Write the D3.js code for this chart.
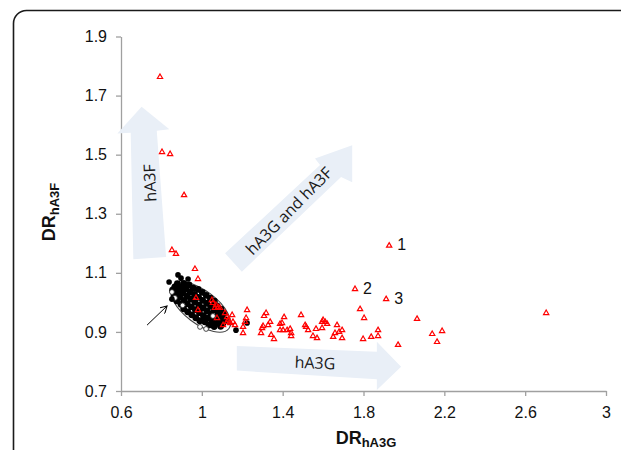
<!DOCTYPE html>
<html><head><meta charset="utf-8">
<script src="https://cdn.jsdelivr.net/npm/d3@7"></script>
<style>body{margin:0;background:#fff}</style>
</head><body><svg id="c" width="621" height="450"></svg>
<script>
// ---- data ----
const xTicks = [0.6, 1, 1.4, 1.8, 2.2, 2.6, 3];
const yTicks = [0.7, 0.9, 1.1, 1.3, 1.5, 1.7, 1.9];

// red open triangles
const redX = [0.793,0.803,0.843,0.912,0.852,0.872,0.966,0.981,0.971,0.981,1.050,1.055,1.070,1.080,1.065,1.090,1.075,1.115,1.125,1.130,1.150,1.140,1.154,1.125,1.105,1.164,1.224,1.219,1.214,1.204,1.204,1.318,1.308,1.303,1.298,1.293,1.338,1.328,1.343,1.357,1.387,1.397,1.407,1.387,1.402,1.422,1.437,1.442,1.442,1.491,1.511,1.516,1.526,1.550,1.565,1.570,1.595,1.600,1.610,1.620,1.595,1.659,1.650,1.669,1.694,1.694,1.679,1.758,1.783,1.803,1.798,1.838,1.872,1.872,1.912,1.927,1.971,2.065,2.140,2.189,2.164,2.704];
const redY = [1.763,1.509,1.502,1.363,1.177,1.164,1.113,1.079,1.015,0.974,1.008,0.998,0.991,0.984,0.981,0.981,0.947,0.964,0.950,0.940,0.957,0.930,0.934,0.934,0.923,0.923,0.974,0.947,0.934,0.917,0.896,0.964,0.954,0.920,0.913,0.896,0.934,0.923,0.890,0.876,0.927,0.930,0.950,0.906,0.906,0.906,0.910,0.896,0.886,0.957,0.923,0.917,0.906,0.886,0.910,0.879,0.934,0.940,0.934,0.927,0.913,0.896,0.883,0.923,0.906,0.879,0.900,1.045,0.977,0.947,0.876,0.883,0.906,0.886,1.011,1.192,0.856,0.944,0.893,0.903,0.866,0.964];

// black cluster (dense, overlapping)
const clusterX = [0.879,0.867,0.855, 0.911,0.899,0.887,0.875,0.863, 0.937,0.922,0.907,0.892,0.877, 0.957,0.942,0.927,0.912,0.897, 0.982,0.964,0.946,0.928,0.910, 1.002,0.984,0.966,0.948,0.930, 1.022,1.004,0.986,0.968,0.950, 1.042,1.024,1.006,0.988,0.970, 1.062,1.044,1.026,1.008,0.990, 1.075,1.060,1.045,1.030,1.015, 1.095,1.080,1.065,1.050,1.035, 1.109,1.097,1.085,1.073,1.061, 1.117,1.105,1.093];
const clusterY = [1.063,1.052,1.041, 1.064,1.053,1.042,1.031,1.020, 1.059,1.046,1.032,1.018,1.005, 1.048,1.035,1.021,1.007,0.994, 1.044,1.027,1.011,0.995,0.978, 1.034,1.017,1.001,0.985,0.968, 1.024,1.007,0.991,0.975,0.958, 1.014,0.997,0.981,0.965,0.948, 1.004,0.987,0.971,0.955,0.938, 0.988,0.975,0.961,0.947,0.934, 0.977,0.964,0.950,0.936,0.923, 0.962,0.951,0.940,0.929,0.918, 0.941,0.930,0.919];
// black outliers
const outX = [0.838,0.882,0.897,0.932,0.852,1.169,1.224];
const outY = [1.069,1.093,1.082,1.079,1.011,0.906,0.930];
// open circles at cluster edge
const openX = [0.867,0.991,1.021,0.852,1.055,0.905];
const openY = [1.015,0.917,0.910,1.035,0.954,0.990];

// numbered points
const numLabels = ["1","2","3"];
const numX = [1.927,1.758,1.912];
const numY = [1.192,1.045,1.011];

// annotation block arrows (data space outlines)
const arrowF = [[0.702,1.662],[0.839,1.586],[0.777,1.581],[0.823,1.154],[0.661,1.146],[0.648,1.574],[0.582,1.572]];
const arrowG = [[1.173,0.852],[1.866,0.833],[1.866,0.867],[1.986,0.782],[1.866,0.703],[1.866,0.740],[1.173,0.769]];
const arrowGF = [[1.115,1.166],[1.585,1.465],[1.560,1.487],[1.744,1.532],[1.744,1.407],[1.689,1.424],[1.198,1.104]];
const ellipseC = [0.994, 0.984];
const pointerFrom = [0.729,0.923], pointerTo = [0.828,0.988];

// ---- drawing ----
const svg = d3.select("#c");
const x = d3.scaleLinear().domain([0.6,3]).range([121,606]);
const y = d3.scaleLinear().domain([0.7,1.9]).range([391,36.5]);
const fmt = d => String(+d.toFixed(1));
const FONT = "'Liberation Sans', Arial, sans-serif";

// frame
svg.append("rect").attr("x",13.5).attr("y",10.5).attr("width",700).attr("height",600)
  .attr("rx",13).attr("fill","none").attr("stroke","#1a1a1a").attr("stroke-width",1.6);

// axes
const gx = svg.append("g").attr("transform","translate(0,391)")
  .call(d3.axisBottom(x).tickValues(xTicks).tickFormat(fmt).tickSize(5).tickSizeOuter(0).tickPadding(11));
const gy = svg.append("g").attr("transform","translate(121,0)")
  .call(d3.axisLeft(y).tickValues(yTicks).tickFormat(fmt).tickSize(5).tickSizeOuter(0).tickPadding(9));
[gx,gy].forEach(g=>{
  g.selectAll("path,line").attr("stroke","#a0a0a0").attr("stroke-width",1.3);
  g.selectAll("text").attr("font-family",FONT).attr("font-size",16).attr("fill","#111");
});

// block arrows
const line = d3.line().x(d=>x(d[0])).y(d=>y(d[1]));
[arrowF, arrowG, arrowGF].forEach(a=>{
  svg.append("path").attr("d", line(a)+"Z").attr("fill","#e9eff7");
});
const AFONT = "'Open Sans', sans-serif";
function atext(txt, cx, cy, rot){
  svg.append("text").attr("transform",`translate(${cx},${cy}) rotate(${rot})`)
    .attr("text-anchor","middle").attr("dy","0.35em")
    .attr("font-family",AFONT).attr("font-size",16).attr("fill","#1a1a1a").text(txt);
}
atext("hA3F", 150, 183, -92.5);
atext("hA3G", 315, 363, 2.2);
atext("hA3G and hA3F", 289, 211, -45.5);

// ellipse outline
svg.append("ellipse").attr("cx",x(ellipseC[0])).attr("cy",y(ellipseC[1]))
  .attr("rx",35.5).attr("ry",16.5)
  .attr("transform",`rotate(37 ${x(ellipseC[0])} ${y(ellipseC[1])})`)
  .attr("fill","none").attr("stroke","#444").attr("stroke-width",1.1);

// black points
svg.append("g").selectAll("circle").data(d3.zip(clusterX,clusterY)).join("circle")
  .attr("cx",d=>x(d[0])).attr("cy",d=>y(d[1])).attr("r",3.4).attr("fill","#000");
svg.append("g").selectAll("circle").data(d3.zip(openX,openY)).join("circle")
  .attr("cx",d=>x(d[0])).attr("cy",d=>y(d[1])).attr("r",2.4)
  .attr("fill","#fff").attr("stroke","#333").attr("stroke-width",0.9);
svg.append("g").selectAll("circle").data(d3.zip(outX,outY)).join("circle")
  .attr("cx",d=>x(d[0])).attr("cy",d=>y(d[1])).attr("r",2.8).attr("fill","#000");

// red triangles
const tri = d3.symbol().type(d3.symbolTriangle).size(12);
svg.append("g").selectAll("path").data(d3.zip(redX,redY)).join("path")
  .attr("d",tri).attr("transform",d=>`translate(${x(d[0])},${y(d[1])})`)
  .attr("fill","none").attr("stroke","#ff0000").attr("stroke-width",1.2);

// numbered labels
svg.append("g").selectAll("text").data(d3.zip(numLabels,numX,numY)).join("text")
  .attr("x",d=>x(d[1])+8).attr("y",d=>y(d[2])+4.5)
  .attr("font-family",FONT).attr("font-size",16).attr("fill","#111").text(d=>d[0]);

// pointer arrow
svg.append("defs").append("marker").attr("id","vh").attr("viewBox","0 0 10 10")
  .attr("refX",9).attr("refY",5).attr("markerWidth",8).attr("markerHeight",8)
  .attr("markerUnits","userSpaceOnUse").attr("orient","auto")
  .append("path").attr("d","M0,0 L9,5 L0,10").attr("fill","none").attr("stroke","#000").attr("stroke-width",1.3);
svg.append("line").attr("x1",x(pointerFrom[0])).attr("y1",y(pointerFrom[1]))
  .attr("x2",x(pointerTo[0])).attr("y2",y(pointerTo[1]))
  .attr("stroke","#000").attr("stroke-width",1).attr("marker-end","url(#vh)");

// axis titles
const xt = svg.append("text").attr("x",366).attr("y",444).attr("text-anchor","middle")
  .attr("font-family",FONT).attr("font-weight","bold").attr("fill","#111");
xt.append("tspan").attr("font-size",18).text("DR");
xt.append("tspan").attr("font-size",13).attr("dy",3).text("hA3G");
const yt = svg.append("text").attr("transform","translate(55,212) rotate(-90)").attr("text-anchor","middle")
  .attr("font-family",FONT).attr("font-weight","bold").attr("fill","#111");
yt.append("tspan").attr("font-size",18).text("DR");
yt.append("tspan").attr("font-size",13).attr("dy",4).text("hA3F");
</script></body></html>
